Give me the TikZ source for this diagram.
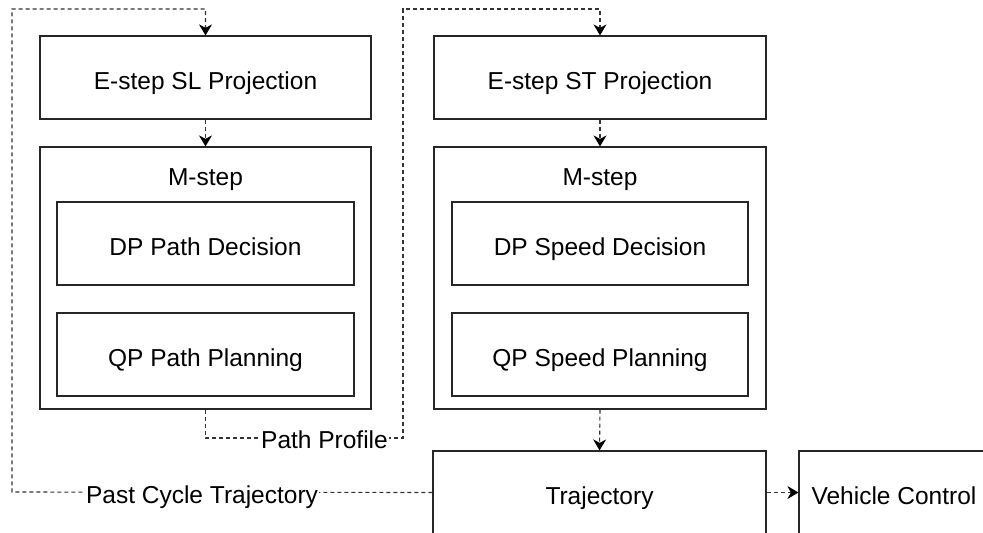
\documentclass[tikz,border=0pt]{standalone}
\usepackage{fontspec}
\setmainfont{Liberation Sans}
\usetikzlibrary{arrows.meta}
\begin{document}
\begin{tikzpicture}[x=1pt,y=-1pt,
  font=\fontsize{24.5}{29}\selectfont,
  txt/.style={text height=23pt, text depth=0pt, inner sep=0pt},
  box/.style={txt, draw=black!85, line width=1.2pt, rectangle, align=center},
  conn/.style={draw=black!80, line width=1.1pt, dash pattern=on 4pt off 3pt},
  arr/.style={conn, -{Stealth[length=11pt,width=13pt,inset=3.5pt,black]}},
  lbl/.style={txt, fill=white, inner xsep=1pt}]
\useasboundingbox (0,0) rectangle (983,533);
\clip (0,0) rectangle (983,533);
% left column
\node[box, minimum width=331pt, minimum height=83pt] (esl) at (205.5,77.5) {E-step SL Projection};
\node[box, minimum width=331pt, minimum height=262pt] (msl) at (205.5,278) {};
\node[txt] (mslt) at (205.5,173.5) {M-step};
\node[box, minimum width=297pt, minimum height=83pt] (dpp) at (205.5,243.5) {DP Path Decision};
\node[box, minimum width=297pt, minimum height=83pt] (qpp) at (205.5,354.5) {QP Path Planning};
% right column
\node[box, minimum width=332pt, minimum height=83pt] (est) at (600,77.5) {E-step ST Projection};
\node[box, minimum width=332pt, minimum height=262pt] (mst) at (600,278) {};
\node[txt] (mstt) at (600,173.5) {M-step};
\node[box, minimum width=296pt, minimum height=83pt] (dps) at (600,243.5) {DP Speed Decision};
\node[box, minimum width=296pt, minimum height=83pt] (qps) at (600,354.5) {QP Speed Planning};
% bottom
\node[box, minimum width=333pt, minimum height=83pt] (traj) at (599.5,492.5) {Trajectory};
\node[box, minimum width=190pt, minimum height=83pt] (vc) at (894,492.5) {Vehicle Control};
% connectors
\draw[arr] (esl.south) -- (msl.north);
\draw[arr] (est.south) -- (mst.north);
\draw[arr] (mst.south) -- (traj.north);
\draw[arr] (traj.east) -- (vc.west);
\coordinate (pp1) at (205.5,438);
\coordinate (pp2) at (403,438);
\coordinate (pp3) at (403,9);
\coordinate (pp4) at (600,9);
\draw[arr] (msl.south) -- (pp1) -- (pp2) -- (pp3) -- (pp4) -- (est.north);
\coordinate (pc1) at (12,492);
\coordinate (pc2) at (12,9);
\coordinate (pc3) at (205.5,9);
\draw[arr] (traj.west) -- (pc1) -- (pc2) -- (pc3) -- (esl.north);
\node[lbl, minimum height=20pt] (pplbl) at (324.5,436.5) {Path Profile};
\node[lbl, minimum height=20pt] (pclbl) at (202,491.5) {Past Cycle Trajectory};
\end{tikzpicture}
\end{document}
